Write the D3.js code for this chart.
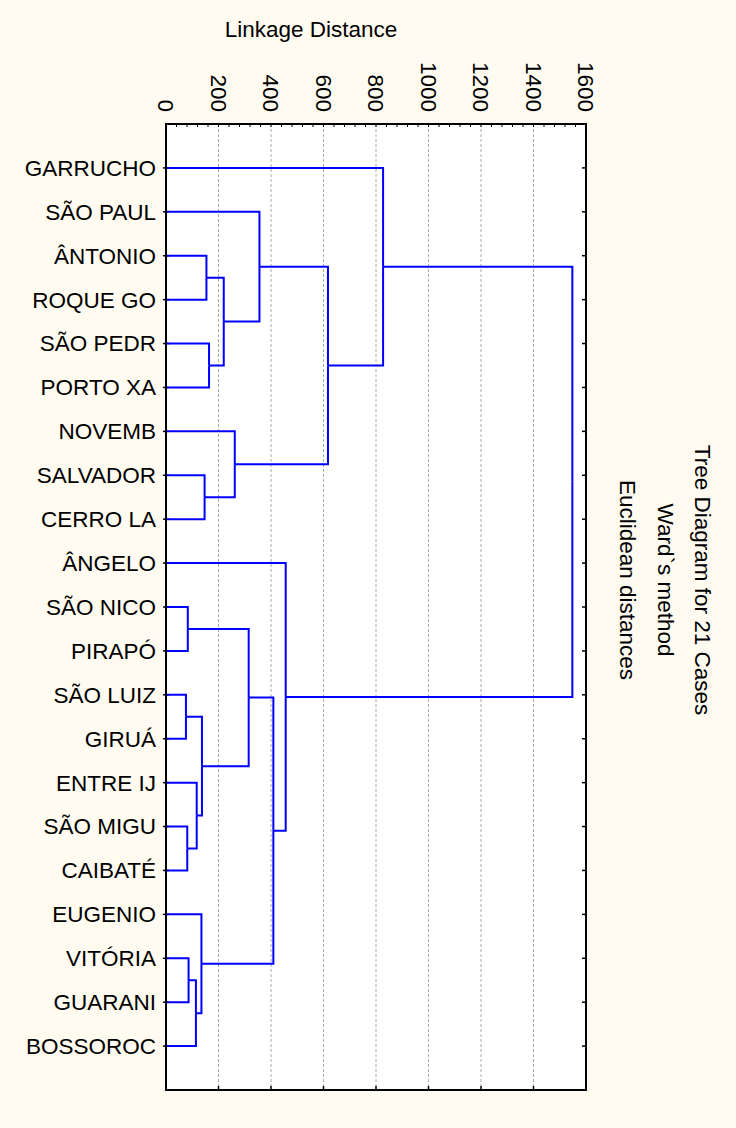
<!DOCTYPE html>
<html>
<head>
<meta charset="utf-8">
<script src="https://cdn.jsdelivr.net/npm/d3@7"></script>
<style>
  html, body { margin: 0; padding: 0; background: #fffbf0; }
  svg { display: block; }
  text { font-family: "Liberation Sans", Arial, sans-serif; fill: #000; }
</style>
</head>
<body>
<svg id="chart" width="736" height="1128"></svg>
<script>
// leaf order as drawn, top to bottom
const labels = [
    "GARRUCHO", "SÃO PAUL", "ÂNTONIO", "ROQUE GO", "SÃO PEDR", "PORTO XA",
    "NOVEMB", "SALVADOR", "CERRO LA", "ÂNGELO", "SÃO NICO", "PIRAPÓ",
    "SÃO LUIZ", "GIRUÁ", "ENTRE IJ", "SÃO MIGU", "CAIBATÉ", "EUGENIO",
    "VITÓRIA", "GUARANI", "BOSSOROC"
];

// linkage steps: [child a, child b, distance]; index >= 21 means an earlier step
const merges = [
    [12, 13, 76],
    [15, 16, 81],
    [10, 11, 83],
    [18, 19, 86],
    [24, 20, 114],
    [14, 22, 117],
    [17, 25, 135],
    [21, 26, 137],
    [7, 8, 147],
    [2, 3, 154],
    [4, 5, 164],
    [30, 31, 220],
    [6, 29, 262],
    [23, 28, 315],
    [1, 32, 356],
    [34, 27, 409],
    [9, 36, 456],
    [35, 33, 617],
    [0, 38, 827],
    [39, 37, 1548]
];

const xTicks = [0, 200, 400, 600, 800, 1000, 1200, 1400, 1600];
const titleLines = ["Tree Diagram for 21 Cases", "Ward`s method", "Euclidean distances"];
const axisTitle = "Linkage Distance";

const plot = { left: 166, right: 586, top: 124, bottom: 1090 };
const fontSize = 22.5;

const svg = d3.select("#chart");

const x = d3.scaleLinear().domain([0, 1600]).range([plot.left, plot.right]);
const y = d3.scalePoint().domain(labels).range([plot.top, plot.bottom]).padding(1);

// build the tree
const nodes = labels.map(name => ({ name, dist: 0 }));
merges.forEach(([a, b, d]) => nodes.push({ children: [nodes[a], nodes[b]], dist: d }));
const root = d3.hierarchy(nodes[nodes.length - 1]);
root.eachAfter(n => {
    n.px = x(n.data.dist);
    n.py = n.children ? d3.mean(n.children, c => c.py) : y(n.data.name);
});

// plot background
svg.append("rect")
    .attr("x", plot.left).attr("y", plot.top)
    .attr("width", plot.right - plot.left).attr("height", plot.bottom - plot.top)
    .attr("fill", "#fff");

// grid
svg.append("g")
    .selectAll("line")
    .data(xTicks.slice(1, -1))
    .join("line")
    .attr("x1", d => x(d)).attr("x2", d => x(d))
    .attr("y1", plot.top).attr("y2", plot.bottom)
    .attr("stroke", "#aaaaaa")
    .attr("stroke-width", 1)
    .attr("stroke-dasharray", "3,2");

// top minor ticks
const minor = d3.range(0, 1601, 40);
svg.append("g")
    .selectAll("line")
    .data(minor)
    .join("line")
    .attr("x1", d => x(d)).attr("x2", d => x(d))
    .attr("y1", plot.top).attr("y2", plot.top + 3)
    .attr("stroke", "#000").attr("stroke-width", 1);

// bottom ticks
svg.append("g")
    .selectAll("line")
    .data(xTicks)
    .join("line")
    .attr("x1", d => x(d)).attr("x2", d => x(d))
    .attr("y1", plot.bottom).attr("y2", plot.bottom - 4)
    .attr("stroke", "#000").attr("stroke-width", 1.5);

// row ticks both sides
const rowTicks = svg.append("g");
rowTicks.selectAll(".lt")
    .data(labels)
    .join("line")
    .attr("x1", plot.left - 3).attr("x2", plot.left + 3)
    .attr("y1", d => y(d)).attr("y2", d => y(d))
    .attr("stroke", "#000").attr("stroke-width", 1.5);
rowTicks.selectAll(".rt")
    .data(labels)
    .join("line")
    .attr("x1", plot.right - 4).attr("x2", plot.right)
    .attr("y1", d => y(d)).attr("y2", d => y(d))
    .attr("stroke", "#000").attr("stroke-width", 1.5);

// dendrogram links
svg.append("g")
    .attr("fill", "none")
    .attr("stroke", "#0000ff")
    .attr("stroke-width", 2)
    .selectAll("path")
    .data(root.links())
    .join("path")
    .attr("d", l => `M${l.target.px},${l.target.py}H${l.source.px}V${l.source.py}`);

// frame
svg.append("rect")
    .attr("x", plot.left).attr("y", plot.top)
    .attr("width", plot.right - plot.left).attr("height", plot.bottom - plot.top)
    .attr("fill", "none")
    .attr("stroke", "#000")
    .attr("stroke-width", 2);

// leaf labels
svg.append("g")
    .selectAll("text")
    .data(labels)
    .join("text")
    .attr("x", plot.left - 10)
    .attr("y", d => y(d))
    .attr("dy", "0.35em")
    .attr("text-anchor", "end")
    .attr("font-size", fontSize)
    .text(d => d);

// rotated tick labels on top
svg.append("g")
    .selectAll("text")
    .data(xTicks)
    .join("text")
    .attr("transform", d => `translate(${x(d)},${plot.top - 12}) rotate(90)`)
    .attr("dy", "0.35em")
    .attr("text-anchor", "end")
    .attr("font-size", fontSize)
    .text(d => d);

svg.append("text")
    .attr("x", 311).attr("y", 37)
    .attr("text-anchor", "middle")
    .attr("font-size", fontSize)
    .text(axisTitle);

// title on the right, reading downward
const title = svg.append("g").attr("transform", "translate(695,580) rotate(90)");
title.selectAll("text")
    .data(titleLines)
    .join("text")
    .attr("x", 0)
    .attr("y", (d, i) => i * 37.5)
    .attr("text-anchor", "middle")
    .attr("font-size", fontSize)
    .text(d => d);
</script>
</body>
</html>
